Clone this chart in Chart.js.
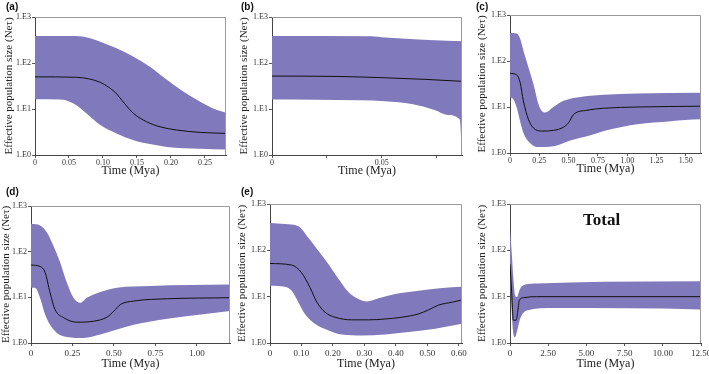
<!DOCTYPE html>
<html>
<head>
<meta charset="utf-8">
<script src="https://cdn.jsdelivr.net/npm/chart.js@4.4.1/dist/chart.umd.min.js"></script>
<style>
  html, body { margin: 0; padding: 0; background: #fff; }
  #wrap { position: relative; width: 709px; height: 374px; overflow: hidden; background: #fff; }
  #wrap canvas { position: absolute; }
  .lbl { position: absolute; font: bold 10px "Liberation Sans", Arial, sans-serif; line-height: 1; color: #111; }
  .total { position: absolute; font: bold 17px "Liberation Serif", "Times New Roman", serif; line-height: 1; color: #111; }
</style>
</head>
<body>
<div id="wrap">
  <canvas id="cA" width="235" height="185" style="left:0;top:0"></canvas>
  <canvas id="cB" width="235" height="185" style="left:235px;top:0"></canvas>
  <canvas id="cC" width="239" height="185" style="left:470px;top:0"></canvas>
  <canvas id="cD" width="235" height="189" style="left:0;top:185px"></canvas>
  <canvas id="cE" width="235" height="189" style="left:235px;top:185px"></canvas>
  <canvas id="cF" width="239" height="189" style="left:470px;top:185px"></canvas>
  <div class="lbl" style="left:6px;top:2px">(a)</div>
  <div class="lbl" style="left:241px;top:2px">(b)</div>
  <div class="lbl" style="left:476px;top:2px">(c)</div>
  <div class="lbl" style="left:6px;top:187px">(d)</div>
  <div class="lbl" style="left:241px;top:187px">(e)</div>
  <div class="total" style="left:583px;top:211px">Total</div>
</div>
<script>
// y axis (log) shared by all panels
const yTicks = [1, 10, 100, 1000];
const yTickLabels = ['1.E0', '1.E1', '1.E2', '1.E3'];

// x ticks per panel
const aTicks = [0, 0.05, 0.10, 0.15, 0.20, 0.25];
const aTickLabels = ['0', '0.05', '0.10', '0.15', '0.20', '0.25'];
const bTicks = [0, 0.025, 0.05, 0.075];
const bTickLabels = ['0', '', '0.05', ''];
const cTicks = [0, 0.25, 0.5, 0.75, 1, 1.25, 1.5];
const cTickLabels = ['0', '0.25', '0.50', '0.75', '1.00', '1.25', '1.50'];
const dTicks = [0, 0.25, 0.5, 0.75, 1];
const dTickLabels = ['0', '0.25', '0.50', '0.75', '1.00'];
const eTicks = [0, 0.1, 0.2, 0.3, 0.4, 0.5, 0.6];
const eTickLabels = ['0', '0.10', '0.20', '0.30', '0.40', '0.50', '0.60'];
const fTicks = [0, 2.5, 5, 7.5, 10, 12.5];
const fTickLabels = ['0', '2.50', '5.00', '7.50', '10.00', '12.50'];

// [time (Mya), Ne*tau] — upper / median / lower 95% HPD
const aUpper = [[0,387],[0.06,385],[0.08,350],[0.096,290],[0.12,208],[0.145,137],[0.169,83],[0.194,43],[0.218,24],[0.243,14.4],[0.262,10.3],[0.281,8.3]];
const aMedian = [[0,50],[0.06,49],[0.08,45],[0.096,38],[0.108,30],[0.118,23],[0.132,13],[0.145,8],[0.164,5.3],[0.184,4.1],[0.208,3.5],[0.243,3.1],[0.281,2.95]];
const aLower = [[0,16.2],[0.037,16],[0.056,13.3],[0.076,8],[0.096,4.5],[0.12,2.95],[0.145,2.1],[0.169,1.73],[0.194,1.5],[0.243,1.37],[0.281,1.32]];

const bUpper = [[0,387],[0.045,380],[0.0515,357],[0.0667,324],[0.0865,296]];
const bMedian = [[0,52],[0.03,51],[0.05,48],[0.07,44],[0.0865,40]];
const bLower = [[0,16.1],[0.04,15.5],[0.0515,14.8],[0.0636,12.8],[0.074,9.5],[0.08,7.4],[0.0855,5.9],[0.0865,1]];

const cUpper = [[0,408],[0.057,395],[0.086,309],[0.114,170],[0.157,73],[0.2,31.6],[0.243,11.5],[0.271,8.2],[0.3,7.6],[0.371,10],[0.457,13.6],[0.571,16.1],[0.8,18.5],[1.086,19.7],[1.63,20.4]];
const cMedian = [[0,54],[0.057,50],[0.086,34.4],[0.114,13.6],[0.157,5.4],[0.2,3.5],[0.271,3.0],[0.371,3.1],[0.457,3.65],[0.5,4.55],[0.543,6.9],[0.657,8.5],[0.8,9.4],[1.086,10],[1.63,10.4]];
const cLower = [[0,16.1],[0.029,14.8],[0.057,9.7],[0.086,4.9],[0.114,2.75],[0.157,1.8],[0.229,1.35],[0.371,1.4],[0.514,1.86],[0.657,2.3],[0.8,3.0],[0.943,3.65],[1.086,4.2],[1.371,4.9],[1.62,5.4],[1.63,1]];

const dUpper = [[0,408],[0.0545,375],[0.095,267],[0.135,135],[0.176,58],[0.216,21],[0.256,9.8],[0.297,7.6],[0.337,9.8],[0.418,13.1],[0.519,16.3],[0.72,17.8],[1.2,19]];
const dMedian = [[0,51],[0.0545,47.5],[0.085,35],[0.115,12.6],[0.145,5.4],[0.196,3.6],[0.277,2.86],[0.378,3.0],[0.459,3.7],[0.5,5],[0.54,7],[0.62,8.3],[0.822,9.3],[1.2,9.8]];
const dLower = [[0,16.3],[0.024,16.3],[0.0545,9.8],[0.085,4.2],[0.115,2.5],[0.156,1.66],[0.216,1.36],[0.317,1.29],[0.418,1.53],[0.519,1.97],[0.62,2.5],[0.822,3.4],[1.024,4.2],[1.2,5.0]];

const eUpper = [[0,390],[0.048,372],[0.09,331],[0.122,187],[0.154,97],[0.186,50],[0.218,24],[0.25,12.4],[0.281,8.9],[0.308,7.9],[0.345,9.2],[0.398,11.4],[0.472,13.5],[0.547,15.4],[0.61,16.3]];
const eMedian = [[0,52],[0.069,48],[0.1,33],[0.127,15.8],[0.149,7.6],[0.175,4.6],[0.207,3.6],[0.26,3.16],[0.313,3.16],[0.366,3.3],[0.419,3.6],[0.472,4.25],[0.504,5.2],[0.536,6.6],[0.579,7.6],[0.61,8.5]];
const eLower = [[0,17.2],[0.048,16.4],[0.069,13.4],[0.09,7.6],[0.111,4.25],[0.143,2.6],[0.186,1.87],[0.228,1.53],[0.292,1.46],[0.366,1.53],[0.44,1.72],[0.525,2.03],[0.61,2.6]];

const fUpper = [[0,300],[0.11,93],[0.22,24.6],[0.33,10.7],[0.44,9.8],[0.66,14.9],[0.99,18.3],[1.75,19.2],[6.14,20.9],[12.5,21.5]];
const fMedian = [[0,50],[0.11,12.6],[0.22,3.1],[0.4,3.1],[0.5,4.6],[0.61,8.3],[0.88,9.5],[1.75,10],[12.5,10]];
const fLower = [[0,34],[0.11,4.6],[0.22,1.6],[0.33,1.33],[0.44,1.7],[0.66,3.3],[1.1,5.0],[2.85,5.7],[12.45,5.3],[12.5,1]];

const BAND = '#8079bb';
const SERIF = '"Liberation Serif", "Times New Roman", serif';

const framePlugin = {
  id: 'frame',
  afterDatasetsDraw(chart) {
    const { ctx, chartArea: a } = chart;
    ctx.save();
    ctx.strokeStyle = '#9a9a9a';
    ctx.lineWidth = 1;
    ctx.beginPath();
    ctx.moveTo(a.left, a.top + 0.5);
    ctx.lineTo(a.right - 0.5, a.top + 0.5);
    ctx.lineTo(a.right - 0.5, a.bottom);
    ctx.stroke();
    ctx.restore();
  }
};

const toXY = arr => arr.map(p => ({ x: p[0], y: p[1] }));

function makePanel(id, g, xMax, xTicks, xTickLabels, upper, median, lower) {
  const el = document.getElementById(id);
  const xTitleFont = 12;
  const xTitleBottom = Math.max(0, g.h - xTitleFont * 0.6 - (g.B + g.xTitleGap));
  return new Chart(el.getContext('2d'), {
    type: 'line',
    data: {
      datasets: [
        { data: toXY(upper), borderWidth: 0, pointRadius: 0, backgroundColor: BAND, fill: '+1', cubicInterpolationMode: 'monotone' },
        { data: toXY(lower), borderWidth: 0, pointRadius: 0, backgroundColor: BAND, fill: false, cubicInterpolationMode: 'monotone' },
        { data: toXY(median), borderWidth: 1, borderColor: '#111', pointRadius: 0, fill: false, cubicInterpolationMode: 'monotone' }
      ]
    },
    options: {
      responsive: false,
      animation: false,
      events: [],
      layout: { padding: { left: 0, top: g.T, right: g.w - g.R, bottom: 0 } },
      plugins: {
        legend: { display: false },
        tooltip: { enabled: false },
        filler: { drawTime: 'beforeDatasetsDraw' }
      },
      scales: {
        x: {
          type: 'linear', min: 0, max: xMax, z: 1,
          afterBuildTicks: s => { s.ticks = xTicks.map(v => ({ value: v })); },
          afterFit: s => { s.height = g.h - g.B; s.paddingLeft = 0; s.paddingRight = 0; },
          ticks: {
            autoSkip: false, maxRotation: 0, padding: g.tickPad,
            font: { family: SERIF, size: g.xFont }, color: '#333',
            callback: (v, i) => xTickLabels[i]
          },
          grid: { drawOnChartArea: false, drawTicks: true, tickLength: 3, color: '#555' },
          border: { display: true, color: '#444', width: 1 },
          title: {
            display: true, text: 'Time (Mya)', color: '#222',
            font: { family: SERIF, size: xTitleFont, lineHeight: 1.2 },
            padding: { top: 0, bottom: xTitleBottom }
          }
        },
        y: {
          type: 'logarithmic', min: 1, max: 1000, z: 1,
          afterBuildTicks: s => { s.ticks = yTicks.map(v => ({ value: v })); },
          afterFit: s => { s.width = g.L; s.paddingTop = 0; s.paddingBottom = 0; },
          ticks: {
            autoSkip: false, padding: 1,
            font: { family: SERIF, size: 8 }, color: '#333',
            callback: (v, i) => yTickLabels[i]
          },
          grid: { drawOnChartArea: false, drawTicks: true, tickLength: 3, color: '#555' },
          border: { display: true, color: '#444', width: 1 },
          title: {
            display: true, text: 'Effective population size (Neτ)', color: '#222',
            font: { family: SERIF, size: 11, lineHeight: 1.2 },
            padding: { top: Math.max(0, g.yTitleC - 6.6), bottom: 0 }
          }
        }
      }
    },
    plugins: [framePlugin]
  });
}

makePanel('cA', { w: 235, h: 185, L: 35, T: 17, R: 226, B: 155, yTitleC: 9, xTitleGap: 16, tickPad: 0, xFont: 8 }, 0.281, aTicks, aTickLabels, aUpper, aMedian, aLower);
makePanel('cB', { w: 235, h: 185, L: 37, T: 17, R: 227, B: 155, yTitleC: 9, xTitleGap: 16, tickPad: 0, xFont: 8 }, 0.0865, bTicks, bTickLabels, bUpper, bMedian, bLower);
makePanel('cC', { w: 239, h: 185, L: 40, T: 15, R: 231, B: 153, yTitleC: 12, xTitleGap: 16, tickPad: 0, xFont: 8 }, 1.63, cTicks, cTickLabels, cUpper, cMedian, cLower);
makePanel('cD', { w: 235, h: 189, L: 31, T: 21, R: 230, B: 158, yTitleC: 6, xTitleGap: 21, tickPad: 2, xFont: 9 }, 1.2, dTicks, dTickLabels, dUpper, dMedian, dLower);
makePanel('cE', { w: 235, h: 189, L: 35, T: 19, R: 227, B: 158, yTitleC: 7.5, xTitleGap: 21, tickPad: 2, xFont: 9 }, 0.61, eTicks, eTickLabels, eUpper, eMedian, eLower);
makePanel('cF', { w: 239, h: 189, L: 40, T: 19, R: 231, B: 158, yTitleC: 12, xTitleGap: 21, tickPad: 2, xFont: 9 }, 12.5, fTicks, fTickLabels, fUpper, fMedian, fLower);
</script>
</body>
</html>
